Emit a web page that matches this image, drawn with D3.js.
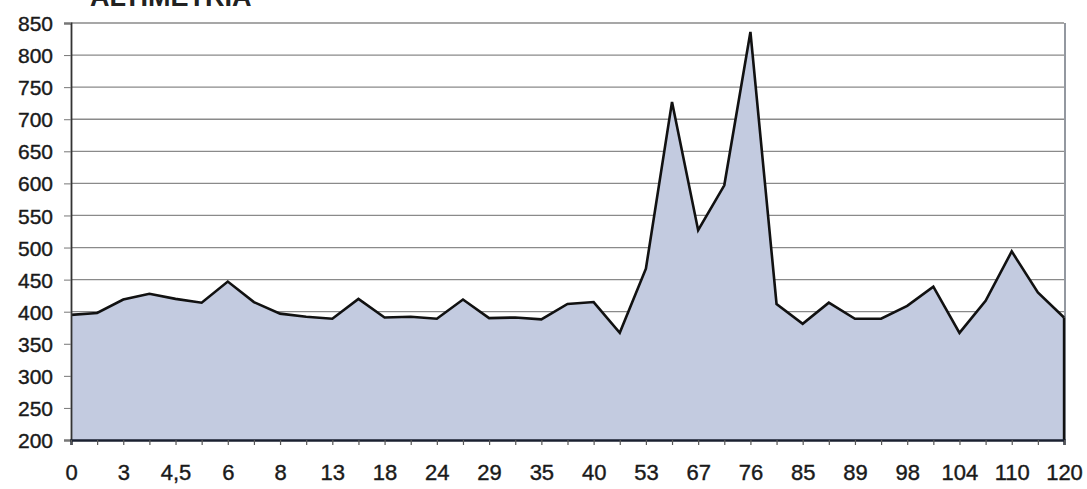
<!DOCTYPE html>
<html>
<head>
<meta charset="utf-8">
<script src="https://cdn.jsdelivr.net/npm/d3@7"></script>
<style>
  body { margin: 0; background: #fff; }
  svg { display: block; }
  .tick text { font-family: Arial, "Liberation Sans", sans-serif; fill: #1a1a1a; stroke: #1a1a1a; stroke-width: 0.4px; }
</style>
</head>
<body>
<svg width="1087" height="489"></svg>
<script>
// distance labels (only every other point is labelled on the axis)
var xLabels = ['0', '3', '4,5', '6', '8', '13', '18', '24', '29', '35', '40', '53', '67', '76', '85', '89', '98', '104', '110', '120'];
// altitude at each of the 39 points
var altitude = [395, 398, 419, 428, 420, 414, 447, 415, 397, 392, 389, 420, 391,
                392, 389, 419, 390, 391, 388, 412, 415, 367, 467, 727, 527, 597,
                836, 412, 381, 414, 389, 389, 409, 439, 367, 417, 494, 430, 391];
var yTicks = [200, 250, 300, 350, 400, 450, 500, 550, 600, 650, 700, 750, 800, 850];

var svg = d3.select('svg');
var plotLeft = 71, plotRight = 1064, plotTop = 23, plotBottom = 440;

var x = d3.scalePoint()
	.domain(d3.range(altitude.length))
	.range([plotLeft, plotRight]);

var y = d3.scaleLinear()
	.domain([200, 850])
	.range([plotBottom, plotTop]);

// title, partly cut off at the top like the scan
svg.append('text')
	.attr('x', 90)
	.attr('y', 6)
	.style('font-family', 'Arial, "Liberation Sans", sans-serif')
	.style('font-weight', 'bold')
	.style('font-size', '27px')
	.attr('fill', '#222')
	.text('ALTIMETRIA');

// gridlines
svg.append('g')
	.selectAll('line')
	.data(yTicks.slice(1))
	.enter().append('line')
	.attr('x1', plotLeft)
	.attr('x2', plotRight)
	.attr('y1', function(d) { return y(d); })
	.attr('y2', function(d) { return y(d); })
	.attr('stroke', '#8a8a8a')
	.attr('stroke-width', 1.3);

// right border
svg.append('line')
	.attr('x1', plotRight + 1).attr('x2', plotRight + 1)
	.attr('y1', plotTop).attr('y2', plotBottom)
	.attr('stroke', '#6f7680')
	.attr('stroke-width', 1.5);

var area = d3.area()
	.x(function(d, i) { return x(i); })
	.y0(y(200))
	.y1(function(d) { return y(d); });

svg.append('path')
	.datum(altitude)
	.attr('d', area)
	.attr('fill', '#c3cbe0');

var line = d3.line()
	.x(function(d, i) { return x(i); })
	.y(function(d) { return y(d); });

svg.append('path')
	.datum(altitude)
	.attr('d', line)
	.attr('fill', 'none')
	.attr('stroke', '#111')
	.attr('stroke-width', 2.6)
	.attr('stroke-linejoin', 'miter');

// closing edge on the right
svg.append('line')
	.attr('x1', x(altitude.length - 1)).attr('x2', x(altitude.length - 1))
	.attr('y1', y(altitude[altitude.length - 1])).attr('y2', plotBottom)
	.attr('stroke', '#111')
	.attr('stroke-width', 2.4);

// y axis
var yAxis = svg.append('g')
	.attr('transform', 'translate(' + plotLeft + ',0)')
	.call(d3.axisLeft(y).tickValues(yTicks).tickSize(7).tickPadding(11));
yAxis.select('.domain').attr('stroke', '#333').attr('stroke-width', 1.8);
yAxis.selectAll('.tick line').attr('stroke', '#777');
yAxis.selectAll('.tick text').style('font-size', '21px').attr('dy', '0.36em');

// x axis
var xAxis = svg.append('g')
	.attr('transform', 'translate(0,' + plotBottom + ')')
	.call(d3.axisBottom(x)
		.tickSize(5)
		.tickPadding(19)
		.tickFormat(function(i) { return i % 2 === 0 ? xLabels[i / 2] : ''; }));
xAxis.select('.domain').attr('stroke', '#1a2030').attr('stroke-width', 2.4);
xAxis.selectAll('.tick line').attr('stroke', '#555').attr('stroke-width', 1.2);
xAxis.selectAll('.tick text').style('font-size', '22px');
</script>
</body>
</html>
